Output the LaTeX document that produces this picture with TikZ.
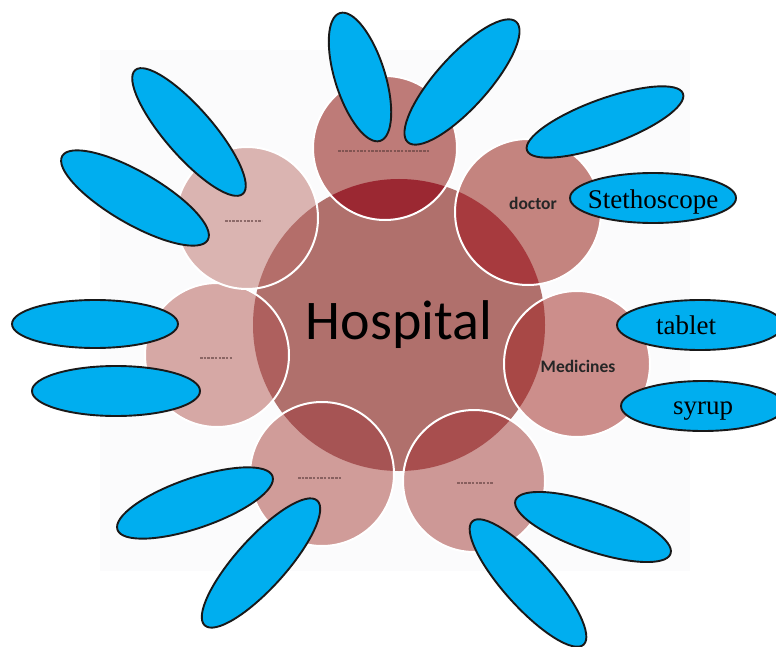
\documentclass[tikz,border=0pt]{standalone}
\usepackage{fontspec}
\setmainfont{Liberation Serif}
\newfontfamily\calfont{Carlito}
\usetikzlibrary{shapes.geometric}
\definecolor{bubc}{HTML}{00AEEF}
\definecolor{hubc}{HTML}{B0706C}
\definecolor{markc}{HTML}{5A3A3A}
\definecolor{bgc}{HTML}{FBFBFC}
\definecolor{fA}{HTML}{BE7B78}\definecolor{oA}{HTML}{9B2832}
\definecolor{fB}{HTML}{C4847F}\definecolor{oB}{HTML}{A73A3E}
\definecolor{fC}{HTML}{CC8E8B}\definecolor{oC}{HTML}{A84846}
\definecolor{fD}{HTML}{CD9896}\definecolor{oD}{HTML}{A84E4E}
\definecolor{fE}{HTML}{D09C99}\definecolor{oE}{HTML}{A65454}
\definecolor{fF}{HTML}{D6A8A5}\definecolor{oF}{HTML}{AE605E}
\definecolor{fG}{HTML}{DAB4B1}\definecolor{oG}{HTML}{B46E6A}
\newcommand\petal[6]{%
  \node[circle, inner sep=0pt, minimum size={2*#4pt}, fill=#5] (#1) at (#2,#3) {};
  \begin{scope}
    \clip (hub.center) circle (146pt);
    \fill[#6] (#2,#3) circle (#4pt);
  \end{scope}
  \draw[white, line width=2pt] (#2,#3) circle (#4pt);
}
\begin{document}
\begin{tikzpicture}[x=1pt,y=-1pt,
  bubble/.style={ellipse, draw=black!90, line width=1.9pt, fill=bubc, inner sep=0pt},
  bubtext/.style={font=\fontsize{27}{27}\selectfont, inner sep=0pt, anchor=base},
  smalltext/.style={font=\calfont\bfseries\fontsize{17.5}{17.5}\selectfont, inner sep=0pt, text=black!85},
  blurline/.style={markc, line width=1.6pt, dash pattern=on 2.5pt off 1.2pt, opacity=0.6}]
\useasboundingbox (0,0) rectangle (776,647);
\fill[bgc] (100,50) rectangle (690,571);
% central circle
\node[circle, inner sep=0pt, minimum size=292pt, fill=hubc,
      font=\calfont\fontsize{56}{56}\selectfont] (hub) at (399,325) {Hospital};
% surrounding circles
\petal{ctop}{385}{148}{72}{fA}{oA}
\petal{cdoc}{528}{212}{73}{fB}{oB}
\petal{cmed}{577}{364}{73}{fC}{oC}
\petal{clr}{474}{481}{71}{fD}{oD}
\petal{cll}{322}{474}{72}{fE}{oE}
\petal{cl}{217}{355}{72}{fF}{oF}
\petal{cul}{247}{218}{71}{fG}{oG}
% circle labels
\node[smalltext] (tdoc) at (533,203) {doctor};
\node[smalltext] (tmed) at (578,366) {Medicines};
% illegible labels
\draw[blurline] (338,151) -- (430,151);
\draw[blurline] (225,221) -- (262,221);
\draw[blurline] (200,358) -- (232,358);
\draw[blurline] (298,478) -- (342,478);
\draw[blurline] (457,483) -- (493,483);
% blue ellipses
\node[bubble, minimum width=164pt, minimum height=48pt, rotate=-49] (e1) at (189,132) {};
\node[bubble, minimum width=168pt, minimum height=52pt, rotate=-30] (e2) at (135,198) {};
\node[bubble, minimum width=134pt, minimum height=50pt, rotate=-72.5] (e3) at (360,77) {};
\node[bubble, minimum width=162pt, minimum height=52pt, rotate=48] (e4) at (462,82) {};
\node[bubble, minimum width=166pt, minimum height=46pt, rotate=20] (e5) at (605,122) {};
\node[bubble, minimum width=166pt, minimum height=50pt] (e6) at (653,198) {};
\node[bubble, minimum width=166pt, minimum height=50pt] (e7) at (700,325) {};
\node[bubble, minimum width=164pt, minimum height=50pt] (e8) at (703,406) {};
\node[bubble, minimum width=164pt, minimum height=48pt, rotate=-19] (e9) at (593,527) {};
\node[bubble, minimum width=166pt, minimum height=48pt, rotate=-48] (e10) at (528,583) {};
\node[bubble, minimum width=164pt, minimum height=50pt, rotate=19] (e11) at (195,503) {};
\node[bubble, minimum width=168pt, minimum height=50pt, rotate=48] (e12) at (261,563) {};
\node[bubble, minimum width=166pt, minimum height=48pt] (e13) at (95,324) {};
\node[bubble, minimum width=168pt, minimum height=50pt] (e14) at (116,391) {};
% ellipse texts
\node[bubtext] (t6) at ([yshift=-10pt]e6.center) {Stethoscope};
\node[bubtext] (t7) at ([xshift=-14pt,yshift=-9pt]e7.center) {tablet};
\node[bubtext] (t8) at ([yshift=-8pt]e8.center) {syrup};
\end{tikzpicture}
\end{document}
